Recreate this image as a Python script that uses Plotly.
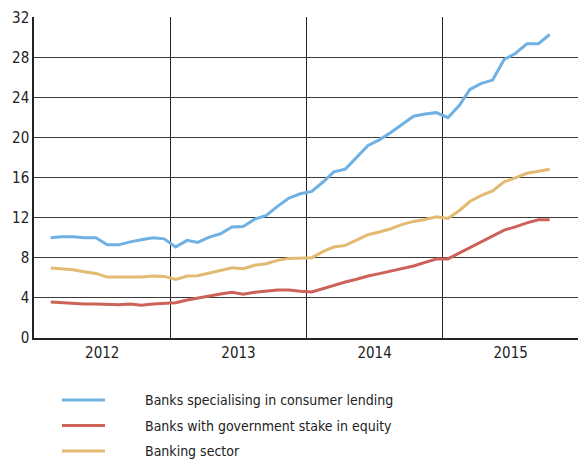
import plotly.graph_objects as go

# Monthly observations, February 2012 to October 2015 (per cent)
months = [f"{y}-{m:02d}-15" for y in range(2012, 2016) for m in range(1, 13)]
months = months[1:-2]

consumer_lending = [
    10.0, 10.1, 10.1, 10.0, 10.0, 9.3, 9.3, 9.6, 9.8, 10.0, 9.9,
    9.1, 9.75, 9.55, 10.08, 10.41, 11.08, 11.14, 11.87, 12.24, 13.14, 13.97, 14.4,
    14.63, 15.6, 16.59, 16.86, 18.02, 19.22, 19.78, 20.51, 21.34, 22.14, 22.37, 22.5,
    22.0, 23.23, 24.82, 25.42, 25.75, 27.81, 28.41, 29.38, 29.38, 30.3,
]
government_stake = [
    3.59, 3.52, 3.46, 3.39, 3.39, 3.32, 3.32, 3.39, 3.26, 3.39, 3.49,
    3.52, 3.79, 4.0, 4.23, 4.4, 4.56, 4.37, 4.56, 4.7, 4.8, 4.8, 4.66,
    4.6, 4.96, 5.3, 5.59, 5.86, 6.19, 6.43, 6.69, 6.99, 7.19, 7.55, 7.89,
    7.9, 8.5, 9.0, 9.57, 10.17, 10.77, 11.1, 11.5, 11.8, 11.8,
]
banking_sector = [
    6.98, 6.91, 6.81, 6.61, 6.45, 6.08, 6.08, 6.11, 6.08, 6.18, 6.15,
    5.85, 6.18, 6.22, 6.49, 6.69, 7.02, 6.92, 7.26, 7.42, 7.75, 7.95, 7.99,
    8.02, 8.65, 9.08, 9.25, 9.78, 10.31, 10.58, 10.91, 11.34, 11.64, 11.84, 12.1,
    11.93, 12.73, 13.63, 14.23, 14.69, 15.59, 15.99, 16.45, 16.65, 16.85,
]

series_names = [
    "Banks specialising in consumer lending",
    "Banks with government stake in equity",
    "Banking sector",
]
series_values = [consumer_lending, government_stake, banking_sector]
series_colors = ["#6FB1E3", "#CD6259", "#E2BA72"]

y_ticks = [0, 4, 8, 12, 16, 20, 24, 28, 32]

FONT = "DejaVu Sans Condensed, Liberation Sans Narrow, Arial Narrow, sans-serif"
W, H = 578, 463
ML, MR, MT, MB = 34, 0, 17, 125

fig = go.Figure()
for name, vals, col in zip(series_names, series_values, series_colors):
    fig.add_trace(go.Scatter(
        x=months, y=vals, name=name, mode="lines",
        line=dict(color=col, width=3), showlegend=False,
    ))

# Legend drawn below the plot area: a short line key plus label per series
pw, ph = W - ML - MR, H - MT - MB
def px_to_paper(px, py):
    return (px - ML) / pw, (H - MB - py) / ph

for i, (name, col) in enumerate(zip(series_names, series_colors)):
    py = 400 + i * 25.5
    x0, y0 = px_to_paper(62, py)
    x1, _ = px_to_paper(105, py)
    fig.add_shape(type="line", xref="paper", yref="paper",
                  x0=x0, x1=x1, y0=y0, y1=y0,
                  line=dict(color=col, width=3))
    tx, _ = px_to_paper(143, py)
    fig.add_annotation(xref="paper", yref="paper", x=tx, y=y0,
                       text=name, showarrow=False, xanchor="left",
                       yanchor="middle",
                       font=dict(family=FONT, size=14, color="#222"))

fig.update_layout(
    width=W, height=H,
    margin=dict(l=ML, r=MR, t=MT, b=MB, pad=0),
    paper_bgcolor="white", plot_bgcolor="white",
    font=dict(family=FONT, size=15, color="#222"),
    xaxis=dict(
        type="date",
        range=["2012-01-01", "2015-12-30"],
        tick0="2012-01-01", dtick="M12",
        ticklabelmode="period", tickformat="%Y",
        showgrid=True, gridcolor="#222", gridwidth=1,
        showline=True, linecolor="#222", linewidth=1.5,
        ticks="", zeroline=False,
    ),
    yaxis=dict(
        range=[0, 32.05], tickvals=y_ticks,
        showgrid=True, gridcolor="#3a3a3a", gridwidth=1,
        showline=True, linecolor="#222", linewidth=1.5,
        ticks="", zeroline=False,
    ),
)

fig.write_html("out.html")
